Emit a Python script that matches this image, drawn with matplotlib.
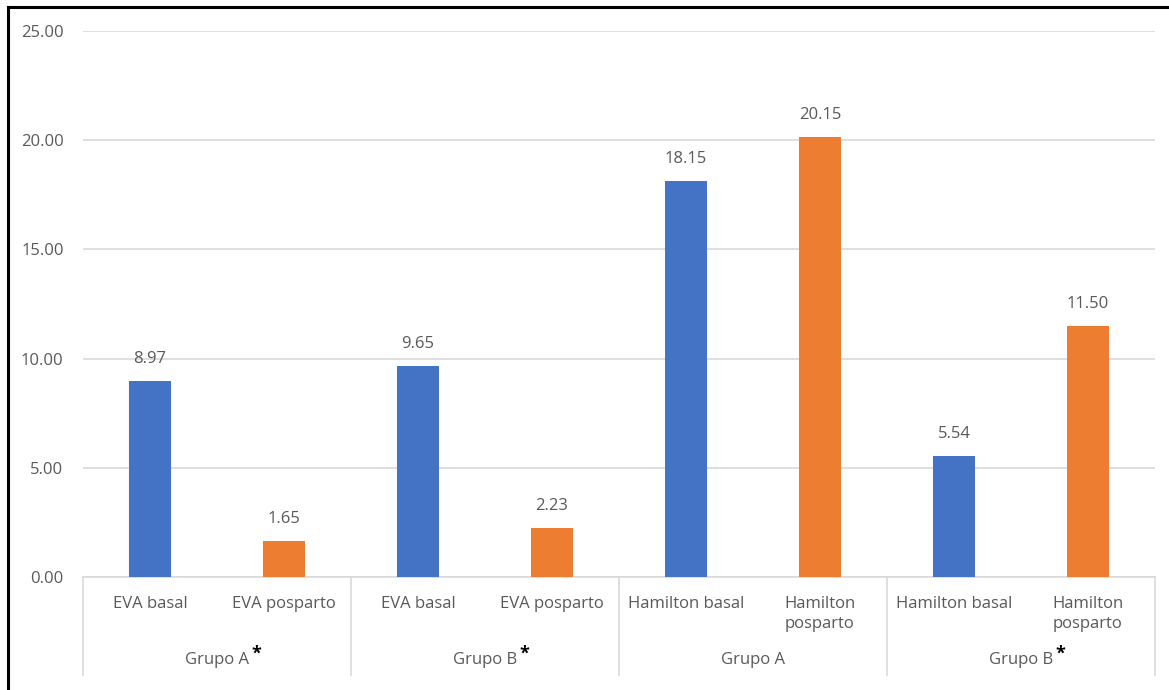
import matplotlib
matplotlib.use("Agg")
import matplotlib.pyplot as plt
from matplotlib.lines import Line2D

plt.rcParams['font.family'] = ['Open Sans', 'DejaVu Sans']

# Data
categories = ["EVA basal", "EVA posparto", "EVA basal", "EVA posparto",
              "Hamilton basal", "Hamilton\nposparto", "Hamilton basal", "Hamilton\nposparto"]
groups = ["Grupo A", "Grupo B", "Grupo A", "Grupo B"]
group_star = [True, True, False, True]
values = [8.97, 1.65, 9.65, 2.23, 18.15, 20.15, 5.54, 11.50]
yticks = [0, 5, 10, 15, 20, 25]

BLUE = "#4472C4"
ORANGE = "#ED7D31"
TXT = "#595959"
GRID = "#D9D9D9"
FS = 12

W, H, DPI = 1169, 690, 100
fig = plt.figure(figsize=(W / DPI, H / DPI), dpi=DPI)
ax = fig.add_axes([83 / W, (H - 577) / H, (1155 - 83) / W, (577 - 31) / H])

x = list(range(len(values)))
colors = [BLUE if i % 2 == 0 else ORANGE for i in x]
ax.bar(x, values, width=0.31, color=colors, zorder=3)

ax.set_xlim(-0.5, len(values) - 0.5)
ax.set_ylim(0, 25)
ax.set_yticks(yticks)
ax.set_yticklabels([f"{v:.2f}" for v in yticks], color=TXT, fontsize=FS)
ax.tick_params(axis='y', length=0, pad=14)
ax.set_xticks([])
ax.grid(axis='y', color=GRID, linewidth=1.2, zorder=0)
for s in ["top", "right", "left"]:
    ax.spines[s].set_visible(False)
ax.spines["bottom"].set_color(GRID)
ax.spines["bottom"].set_linewidth(1.2)

# Value labels
for xi, v in zip(x, values):
    ax.annotate(f"{v:.2f}", (xi, v), xytext=(0, 22), textcoords="offset pixels",
                ha="center", va="center", color=TXT, fontsize=FS)

# Category labels (first level)
trans = ax.get_xaxis_transform()
for xi, lab in zip(x, categories):
    ax.annotate(lab, (xi, 0), xycoords=trans, xytext=(0, -19), textcoords="offset pixels",
                ha="center", va="top", color=TXT, fontsize=FS, linespacing=1.3)

# Group separators
ax_h = 577 - 31
for b in [-0.5, 1.5, 3.5, 5.5, 7.5]:
    ax.add_line(Line2D([b, b], [0, -98 / ax_h], transform=trans, color=GRID,
                       linewidth=1.2, clip_on=False))

# Group labels
glabels = []
for gi, (g, st) in enumerate(zip(groups, group_star)):
    cx = 2 * gi + 0.5
    t = ax.annotate(g, (cx, 0), xycoords=trans, xytext=(0, -83), textcoords="offset pixels",
                    ha="center", va="center", color=TXT, fontsize=FS)
    glabels.append((t, st))

fig.canvas.draw()
renderer = fig.canvas.get_renderer()
for t, st in glabels:
    if st:
        bb = t.get_window_extent(renderer)
        fig.text((bb.x1 + 2) / W, (bb.y1 + 7) / H, "*", color="black", fontsize=13,
                 fontweight="bold", ha="left", va="top")

# Outer frame lines (left and top)
fig.add_artist(Line2D([8 / W, 8 / W], [0, 1 - 7 / H], transform=fig.transFigure,
                      color="black", linewidth=2.2))
fig.add_artist(Line2D([8 / W, 1], [1 - 7 / H, 1 - 7 / H], transform=fig.transFigure,
                      color="black", linewidth=2.2))

fig.savefig("out.png", dpi=DPI)
